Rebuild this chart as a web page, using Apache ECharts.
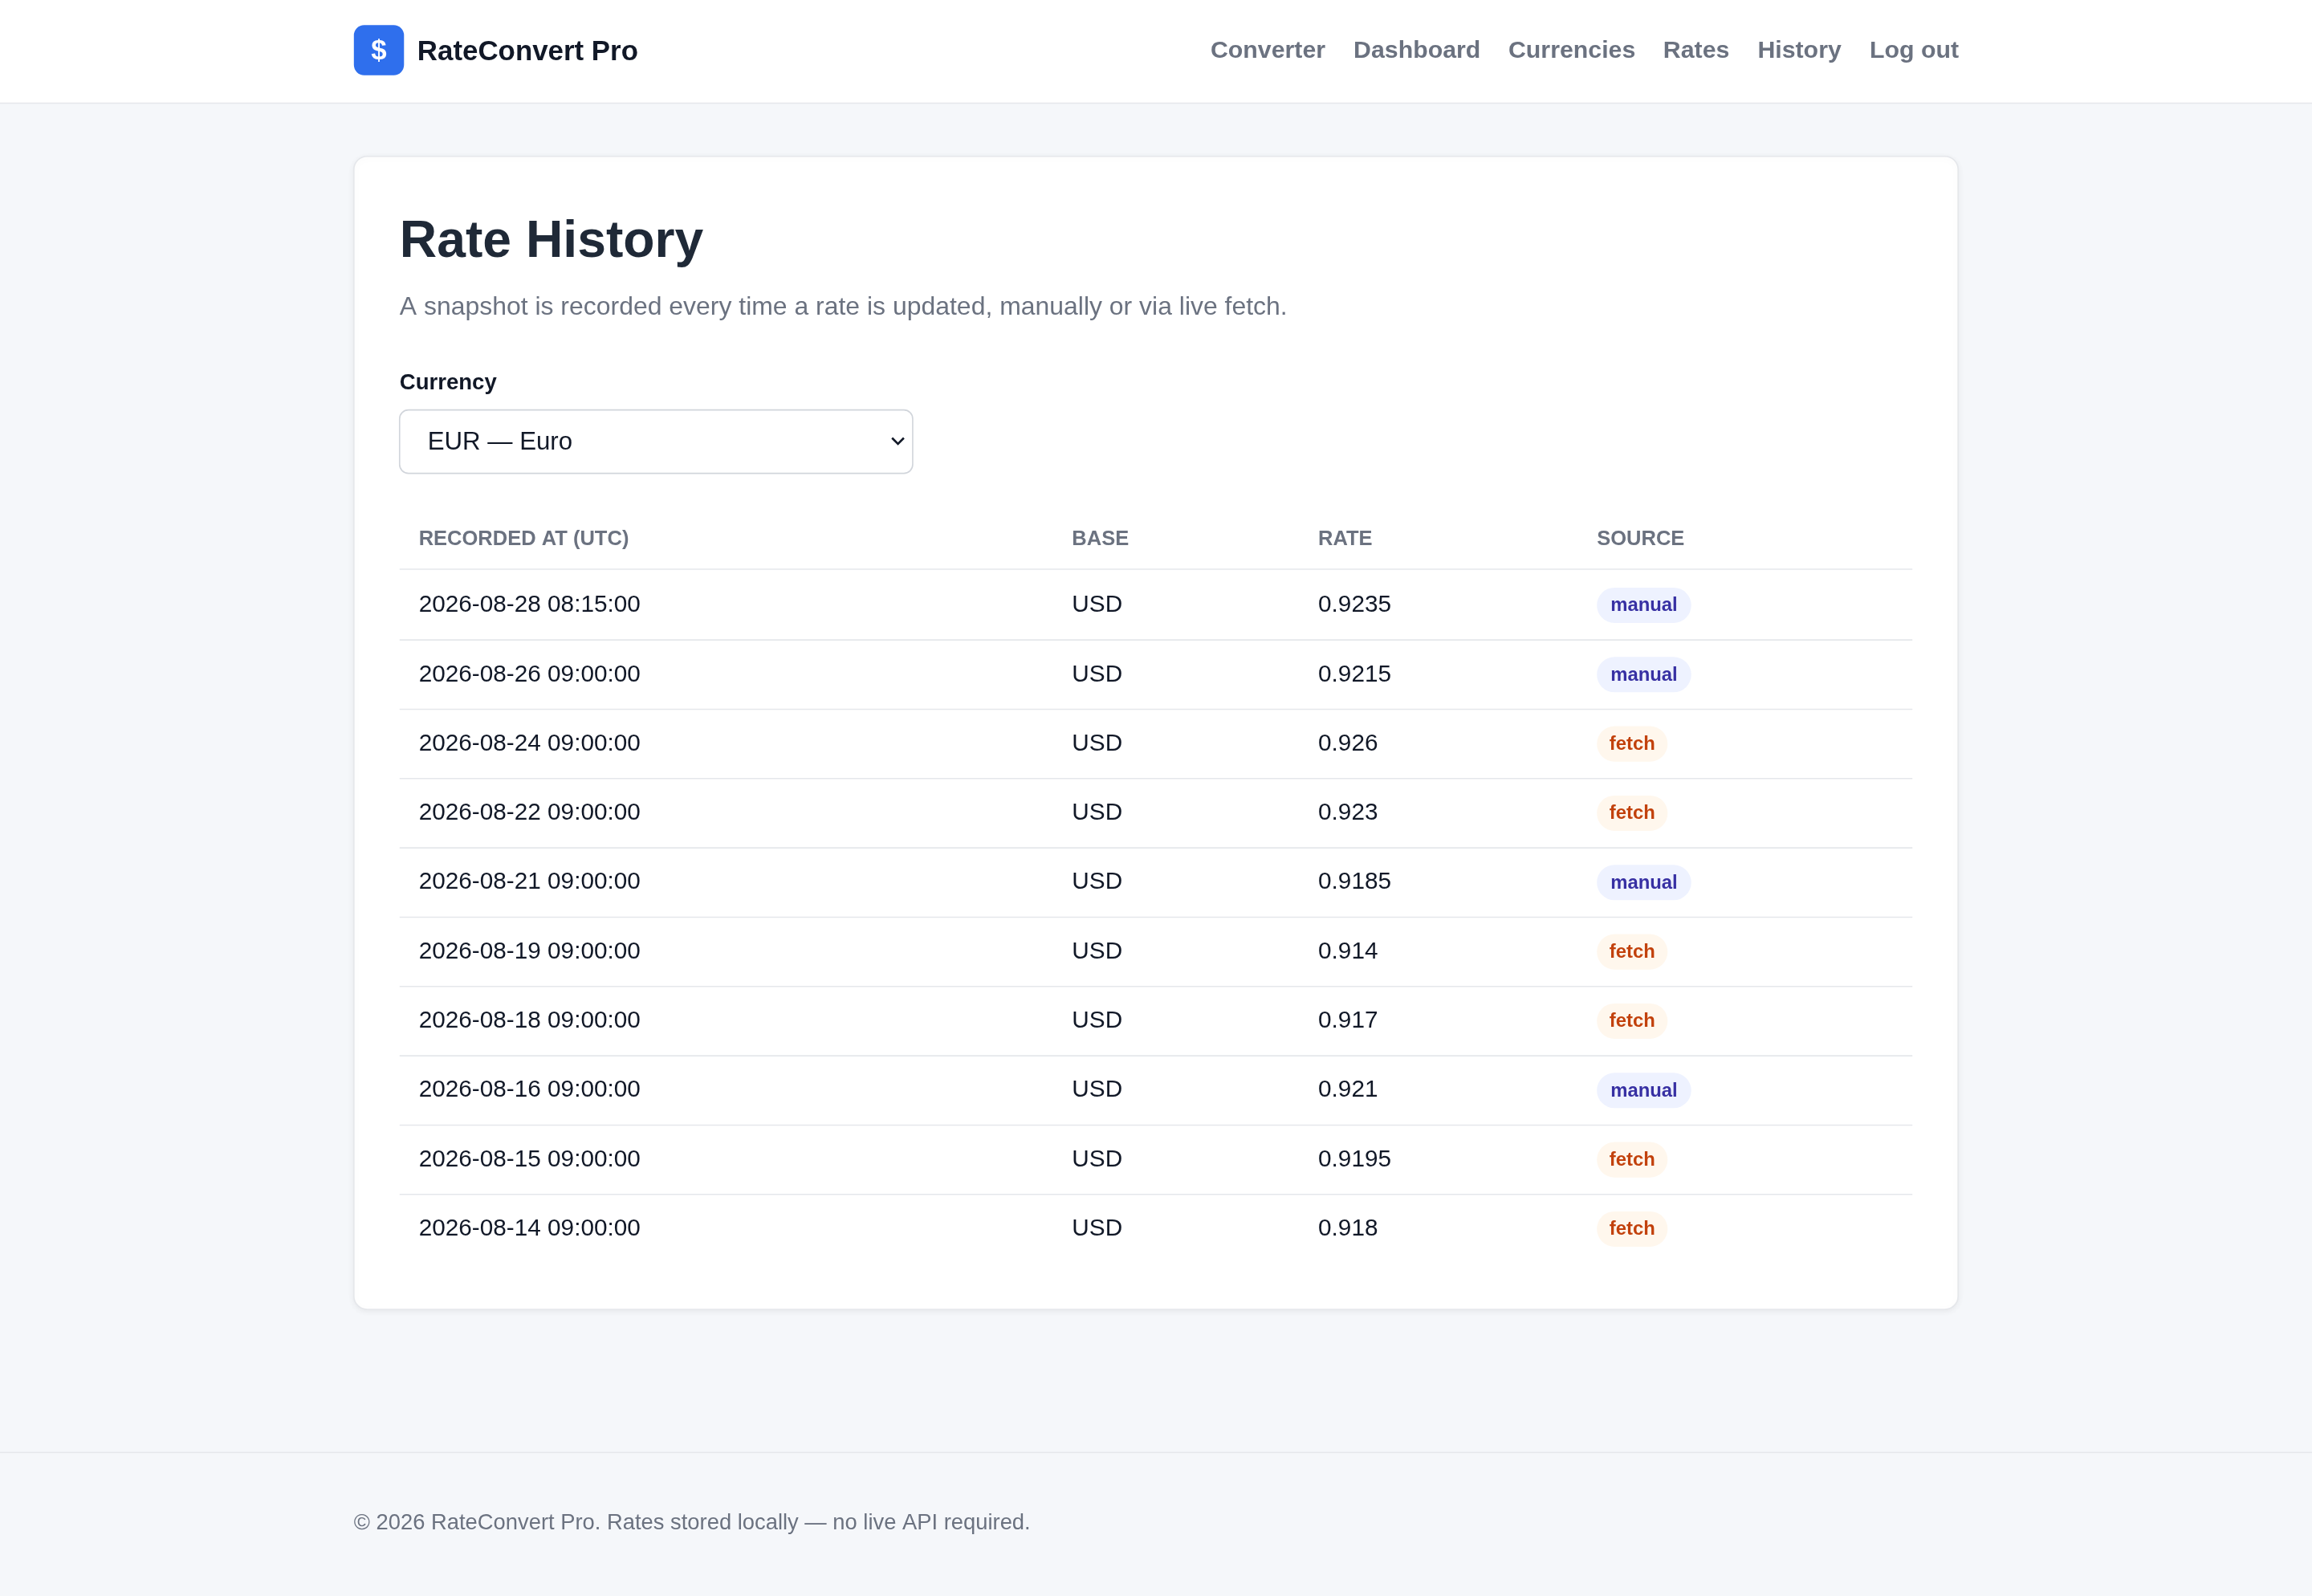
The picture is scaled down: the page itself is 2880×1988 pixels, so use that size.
<!DOCTYPE html>
<html><head><meta charset="utf-8">
<script src="https://cdn.jsdelivr.net/npm/echarts@6/dist/echarts.min.js"></script>
<style>html,body{margin:0;padding:0;background:#f5f7fa}#c{width:2880px;height:1988px}</style>
</head><body><div id="c"></div>
<script>
const navItems = ['Converter','Dashboard','Currencies','Rates','History','Log out'];
const navX = [821,918,1023,1128,1192,1268];
const headers = ['RECORDED AT (UTC)','BASE','RATE','SOURCE'];
const recordedAt = ['2026-08-28 08:15:00','2026-08-26 09:00:00','2026-08-24 09:00:00','2026-08-22 09:00:00','2026-08-21 09:00:00','2026-08-19 09:00:00','2026-08-18 09:00:00','2026-08-16 09:00:00','2026-08-15 09:00:00','2026-08-14 09:00:00'];
const bases = ['USD','USD','USD','USD','USD','USD','USD','USD','USD','USD'];
const rates = ['0.9235','0.9215','0.926','0.923','0.9185','0.914','0.917','0.921','0.9195','0.918'];
const sources = ['manual','manual','fetch','fetch','manual','fetch','fetch','manual','fetch','fetch'];

const s = 2880/1568;
const F = 'Liberation Sans, Arial, sans-serif';
const els = [];
function rect(x,y,w,h,fill,opt={}){els.push({type:'rect',shape:{x:x*s,y:y*s,width:w*s,height:h*s,r:(opt.r||0)*s},style:Object.assign({fill:fill},opt.style||{}),z:opt.z||1});}
function line(x1,y1,x2,y2,c){els.push({type:'line',shape:{x1:x1*s,y1:y1*s,x2:x2*s,y2:y2*s},style:{stroke:c,lineWidth:1.6},z:2});}
function text(x,y,t,size,color,weight,align){els.push({type:'text',x:x*s,y:y*s,style:{text:t,fontSize:size*s,fill:color,fontWeight:weight||'normal',fontFamily:F,textAlign:align||'left',textVerticalAlign:'middle'},z:3});}

// header
rect(0,0,1568,70,'#ffffff');
line(0,70,1568,70,'#e5e7eb');
rect(240,17,34,34,'#2f6fed',{r:7});
text(257,35,'$',19,'#ffffff','bold','center');
text(283,35.5,'RateConvert Pro',19,'#111827','bold');
navItems.forEach((n,i)=>text(navX[i],34.5,n,16.5,'#6b7280','bold'));

// card
rect(240,106,1088,782,'#ffffff',{r:9,style:{stroke:'#e5e7eb',lineWidth:1.6,shadowBlur:8,shadowColor:'rgba(0,0,0,0.06)',shadowOffsetY:2}});
text(271,164.5,'Rate History',35,'#1f2937','bold');
text(271,208.5,'A snapshot is recorded every time a rate is updated, manually or via live fetch.',17.4,'#6b7280');
text(271,260,'Currency',15,'#111827','bold');
rect(271,278,348,43,'#ffffff',{r:6,z:2,style:{stroke:'#d1d5db',lineWidth:1.6}});
text(290,300,'EUR — Euro',17,'#111827');
els.push({type:'polyline',shape:{points:[[605*s,297*s],[609*s,301*s],[613*s,297*s]]},style:{stroke:'#111827',lineWidth:2.6,fill:null},z:3});

const colX = [284,727,894,1083];
headers.forEach((h,i)=>text(colX[i],366,h,13.9,'#6b7280','bold'));
line(271,386,1297,386,'#e5e7eb');
const rowH = 47;
recordedAt.forEach((d,i)=>{
  const y = 410.5 + i*rowH;
  text(colX[0],y,d,16.2,'#111827');
  text(colX[1],y,bases[i],16.2,'#111827');
  text(colX[2],y,rates[i],16.2,'#111827');
  const m = sources[i]==='manual';
  rect(1083,y-12,m?64:48,24,m?'#eef2ff':'#fff7ed',{r:12,z:2});
  text(1083+(m?32:24),y+0.5,sources[i],13,m?'#3730a3':'#c2410c','bold','center');
  if(i<recordedAt.length-1) line(271,y+23.5,1297,y+23.5,'#e5e7eb');
});

// footer
line(0,985,1568,985,'#e5e7eb');
text(240,1033,'© 2026 RateConvert Pro. Rates stored locally — no live API required.',14.9,'#6b7280');

const chart = echarts.init(document.getElementById('c'));
chart.setOption({backgroundColor:'#f5f7fa',graphic:{elements:els}});
</script></body></html>
